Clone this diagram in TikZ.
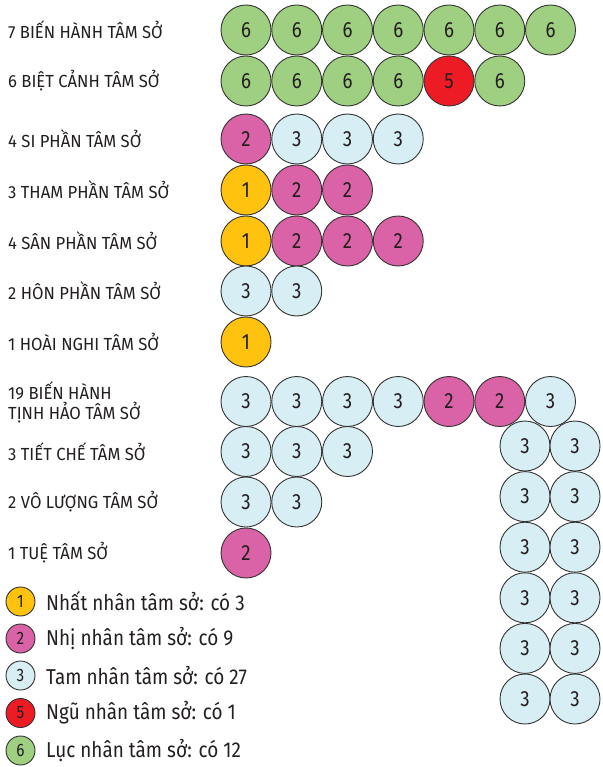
\documentclass[tikz,border=0pt]{standalone}
\usepackage{fontspec}
\setmainfont{Fira Sans}[FakeStretch=0.95]
\newfontfamily\legfont{Fira Sans}[FakeStretch=0.88]
\newfontfamily\numfont{Fira Sans}[FakeStretch=0.85]
\definecolor{cg}{HTML}{9FCF80}
\definecolor{cr}{HTML}{ED1C24}
\definecolor{cp}{HTML}{DA62A6}
\definecolor{cb}{HTML}{D7EEF4}
\definecolor{cy}{HTML}{FFC20E}
\definecolor{edge}{HTML}{333333}
\definecolor{ink}{HTML}{231F20}
\tikzset{
  ball/.style={circle, draw=edge, line width=0.9pt, minimum size=50pt, inner sep=0pt, text=ink, font=\numfont\fontsize{22}{22}\selectfont},
  sball/.style={circle, draw=edge, line width=0.9pt, minimum size=29pt, inner sep=0pt, text=ink, font=\numfont\fontsize{18}{18}\selectfont},
  lbl/.style={anchor=west, inner sep=0pt, text=ink, font=\fontsize{17.5}{20}\selectfont, align=left},
  leg/.style={anchor=west, inner sep=0pt, text=ink, font=\legfont\fontsize{21.5}{20}\selectfont}
}
\newcommand{\ballrow}[3]{%
  \foreach \c/\n [count=\i] in {#3} {%
    \node[ball, fill=\c] (#1-\i) at ({246+50.75*(\i-1)},#2) {\n};
  }%
}
\begin{document}
\begin{tikzpicture}[x=1pt,y=-1pt]
\useasboundingbox (0,0) rectangle (602,767);
% labels
\node[lbl] (l1) at (8,30) {7 BIẾN HÀNH TÂM SỞ};
\node[lbl] (l2) at (8,81) {6 BIỆT CẢNH TÂM SỞ};
\node[lbl] (l3) at (8,139) {4 SI PHẦN TÂM SỞ};
\node[lbl] (l4) at (8,190) {3 THAM PHẦN TÂM SỞ};
\node[lbl] (l5) at (8,241) {4 SÂN PHẦN TÂM SỞ};
\node[lbl] (l6) at (8,291) {2 HÔN PHẦN TÂM SỞ};
\node[lbl] (l7) at (8,342) {1 HOÀI NGHI TÂM SỞ};
\node[lbl] (l8) at (8,402) {19 BIẾN HÀNH\\TỊNH HẢO TÂM SỞ};
\node[lbl] (l9) at (8,452) {3 TIẾT CHẾ TÂM SỞ};
\node[lbl] (l10) at (8,502) {2 VÔ LƯỢNG TÂM SỞ};
\node[lbl] (l11) at (8,553) {1 TUỆ TÂM SỞ};
% rows
\ballrow{r1}{30}{cg/6,cg/6,cg/6,cg/6,cg/6,cg/6,cg/6}
\ballrow{r2}{81}{cg/6,cg/6,cg/6,cg/6,cr/5,cg/6}
\ballrow{r3}{139}{cp/2,cb/3,cb/3,cb/3}
\ballrow{r4}{190}{cy/1,cp/2,cp/2}
\ballrow{r5}{241}{cy/1,cp/2,cp/2,cp/2}
\ballrow{r6}{291}{cb/3,cb/3}
\ballrow{r7}{342}{cy/1}
\ballrow{r8}{401.5}{cb/3,cb/3,cb/3,cb/3,cp/2,cp/2,cb/3}
\ballrow{r9}{451.5}{cb/3,cb/3,cb/3}
\ballrow{r10}{502}{cb/3,cb/3}
\ballrow{r11}{553}{cp/2}
% right block
\foreach \j in {0,...,5} {
  \node[ball, fill=cb] (ba-\j) at (525,{446+50.6*\j}) {3};
  \node[ball, fill=cb] (bb-\j) at (575,{446+50.6*\j}) {3};
}
% legend
\node[sball, fill=cy] (k1) at (20.5,601.5) {1};
\node[sball, fill=cp] (k2) at (20.5,638.5) {2};
\node[sball, fill=cb] (k3) at (20.5,675.5) {3};
\node[sball, fill=cr] (k5) at (20.5,713) {5};
\node[sball, fill=cg] (k6) at (20.5,750.5) {6};
\node[leg] (t1) at (46,601.5) {Nhất nhân tâm sở: có 3};
\node[leg] (t2) at (46,638.5) {Nhị nhân tâm sở: có 9};
\node[leg] (t3) at (46,675.5) {Tam nhân tâm sở: có 27};
\node[leg] (t5) at (46,713) {Ngũ nhân tâm sở: có 1};
\node[leg] (t6) at (46,750.5) {Lục nhân tâm sở: có 12};
\end{tikzpicture}
\end{document}
